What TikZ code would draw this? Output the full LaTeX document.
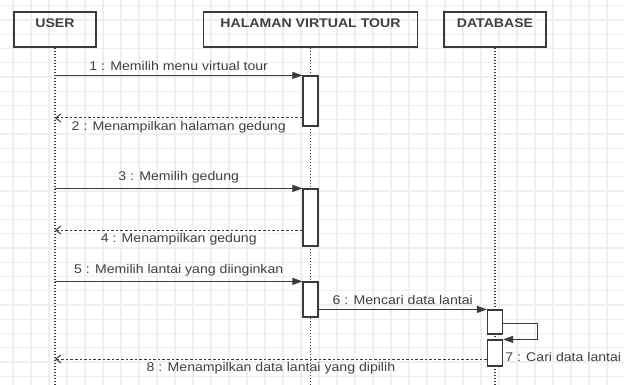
\documentclass[tikz,border=0pt]{standalone}
\usepackage{fontspec}
\setmainfont{Liberation Sans}[FakeStretch=1.12]
\usetikzlibrary{arrows.meta}
\definecolor{linegray}{HTML}{3A3A3A}
\definecolor{textgray}{HTML}{404040}
\definecolor{gridgray}{HTML}{EFEFEF}

\begin{document}
\begin{tikzpicture}[x=1pt, y=-1pt, font=\fontsize{12.6}{15}\selectfont, text=textgray,
			obj/.style={draw=linegray, line width=1.3pt, minimum width=#1, inner ysep=3pt,
				text height=13pt, text depth=16pt, font=\fontsize{12.6}{15}\selectfont\bfseries},
			act/.style={draw=linegray, fill=white, line width=1.2pt, minimum width=15pt, minimum height=#1, inner sep=0pt},
			life/.style={draw=linegray, line width=1.2pt, dash pattern=on 1.4pt off 1.6pt},
			call/.style={draw=linegray, line width=1pt, -{Triangle[length=10pt,width=7pt]}},
			reply/.style={draw=linegray, line width=1pt, dash pattern=on 2.6pt off 2pt, -{Straight Barb[length=5pt,width=8pt]}},
			gridline/.style={draw=gridgray, line width=1.2pt}]
			\useasboundingbox (0,0) rectangle (624,385);
			\foreach \gx in {13,31,...,624} \draw[gridline] (\gx,0) -- (\gx,385);
			\foreach \gy in {5.7,19.95,...,385} \draw[gridline] (0,\gy) -- (624,\gy);
			\node[obj=82] (user) at (55,29.5) {USER};
			\node[obj=214] (halaman) at (310.5,29.5) {HALAMAN VIRTUAL TOUR};
			\node[obj=102] (db) at (495,29.5) {DATABASE};
			\foreach \o in {user,halaman,db}
				\draw[life] (\o.south) -- (\o.south |- 0,385);
			\node[act=50] (a1) at (310.5,101) {};
			\node[act=57] (a2) at (310.5,217.5) {};
			\node[act=35] (a3) at (310.5,299.5) {};
			\node[act=24] (d1) at (495,322) {};
			\node[act=26] (d2) at (495,353) {};
			\draw[call] (user |- a1.north) -- (a1.north west)
				node[midway, above=1pt] (m1) {1 : Memilih menu virtual tour};
			\draw[reply] (a1.west |- 0,118) -- (user |- 0,118)
				node[midway, below=0pt] (m2) {2 : Menampilkan halaman gedung};
			\draw[call] (user |- a2.north) -- (a2.north west)
				node[midway, above=1pt] (m3) {3 : Memilih gedung};
			\draw[reply] (a2.west |- 0,230) -- (user |- 0,230)
				node[midway, below=0pt] (m4) {4 : Menampilkan gedung};
			\draw[call] (user |- a3.north) -- (a3.north west)
				node[midway, above=1pt] (m5) {5 : Memilih lantai yang diinginkan};
			\draw[call] (a3.east |- d1.north) -- (d1.north west)
				node[midway, above=1pt] (m6) {6 : Mencari data lantai};
			\draw[call] (d1.east |- 0,323) -- ++(34,0) |- (d2.north east);
			\node[anchor=west, inner sep=2pt] (m7) at (d2.east |- 0,357) {7 : Cari data lantai};
			\draw[reply] (d2.west |- 0,359) -- (user |- 0,359)
				node[midway, below=0pt] (m8) {8 : Menampilkan data lantai yang dipilih};
		\end{tikzpicture}
\end{document}
